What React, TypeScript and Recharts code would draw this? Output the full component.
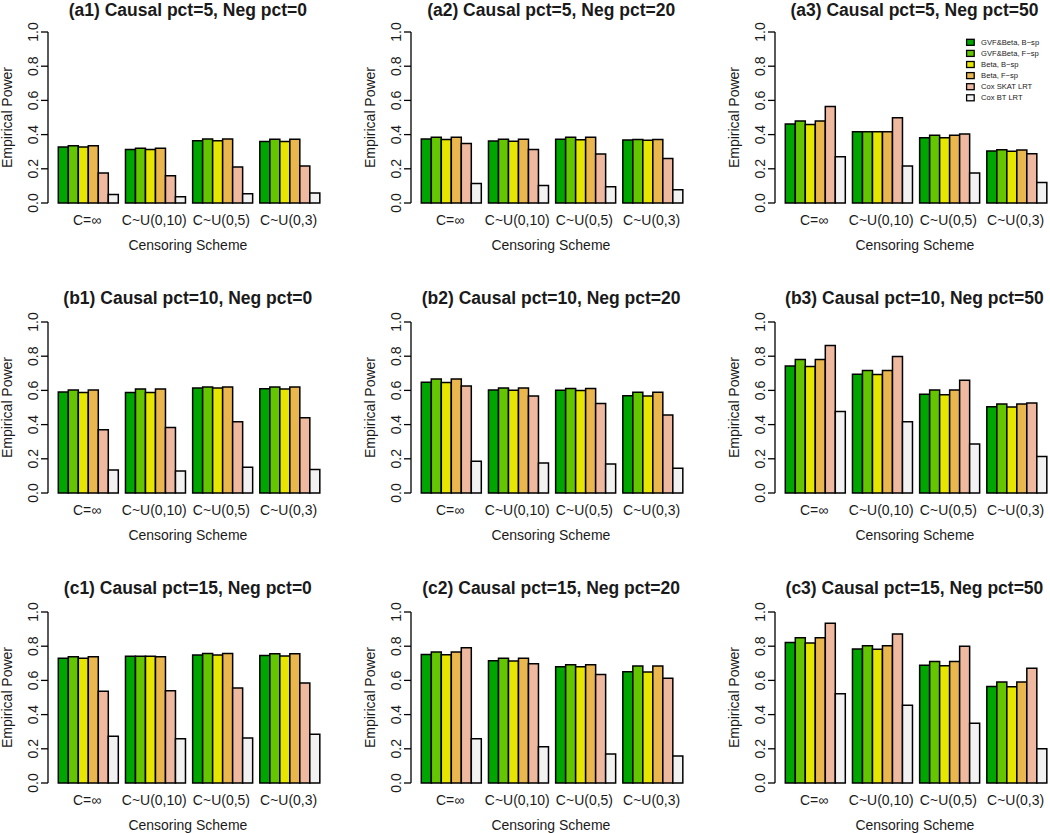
import React from 'react';
import { BarChart, Bar, XAxis, YAxis } from 'recharts';

const FONT = '"Liberation Sans", Arial, Helvetica, sans-serif';

const censoringSchemes = ['C=∞', 'C~U(0,10)', 'C~U(0,5)', 'C~U(0,3)'];
const methodNames = ['GVF&Beta, B−sp', 'GVF&Beta, F−sp', 'Beta, B−sp', 'Beta, F−sp', 'Cox SKAT LRT', 'Cox BT LRT'];
const methodColors = ['#00A600', '#63C600', '#E6E600', '#EAB64E', '#EEB99F', '#F2F2F2'];
const yTicks = [0, 0.2, 0.4, 0.6, 0.8, 1.0];
const panelTitles = [
  '(a1) Causal pct=5, Neg pct=0', '(a2) Causal pct=5, Neg pct=20', '(a3) Causal pct=5, Neg pct=50',
  '(b1) Causal pct=10, Neg pct=0', '(b2) Causal pct=10, Neg pct=20', '(b3) Causal pct=10, Neg pct=50',
  '(c1) Causal pct=15, Neg pct=0', '(c2) Causal pct=15, Neg pct=20', '(c3) Causal pct=15, Neg pct=50',
];

// power[group][method]
const powerA1 = [
  [0.328, 0.335, 0.327, 0.335, 0.175, 0.050],
  [0.313, 0.320, 0.313, 0.320, 0.160, 0.036],
  [0.364, 0.374, 0.364, 0.374, 0.210, 0.054],
  [0.360, 0.373, 0.360, 0.373, 0.216, 0.058],
];
const powerA2 = [
  [0.374, 0.385, 0.372, 0.385, 0.348, 0.114],
  [0.362, 0.373, 0.361, 0.373, 0.313, 0.102],
  [0.373, 0.385, 0.370, 0.385, 0.286, 0.095],
  [0.368, 0.371, 0.367, 0.371, 0.260, 0.077],
];
const powerA3 = [
  [0.462, 0.480, 0.459, 0.480, 0.565, 0.270],
  [0.416, 0.416, 0.416, 0.416, 0.498, 0.217],
  [0.382, 0.396, 0.382, 0.396, 0.403, 0.175],
  [0.304, 0.312, 0.302, 0.310, 0.288, 0.120],
];
const powerB1 = [
  [0.590, 0.602, 0.588, 0.602, 0.370, 0.135],
  [0.587, 0.608, 0.587, 0.608, 0.383, 0.129],
  [0.614, 0.620, 0.614, 0.620, 0.417, 0.151],
  [0.610, 0.620, 0.608, 0.620, 0.440, 0.137],
];
const powerB2 = [
  [0.648, 0.667, 0.646, 0.667, 0.626, 0.186],
  [0.603, 0.614, 0.601, 0.614, 0.567, 0.176],
  [0.601, 0.611, 0.599, 0.611, 0.524, 0.170],
  [0.569, 0.589, 0.567, 0.589, 0.456, 0.145],
];
const powerB3 = [
  [0.742, 0.781, 0.740, 0.781, 0.863, 0.476],
  [0.695, 0.716, 0.693, 0.716, 0.798, 0.417],
  [0.577, 0.603, 0.575, 0.603, 0.659, 0.286],
  [0.505, 0.521, 0.503, 0.521, 0.526, 0.213],
];
const powerC1 = [
  [0.729, 0.739, 0.729, 0.739, 0.536, 0.273],
  [0.741, 0.741, 0.741, 0.739, 0.540, 0.259],
  [0.749, 0.758, 0.749, 0.758, 0.556, 0.263],
  [0.745, 0.756, 0.743, 0.756, 0.585, 0.285],
];
const powerC2 = [
  [0.752, 0.766, 0.750, 0.766, 0.791, 0.259],
  [0.715, 0.729, 0.713, 0.729, 0.698, 0.212],
  [0.680, 0.692, 0.680, 0.692, 0.634, 0.170],
  [0.651, 0.684, 0.649, 0.684, 0.612, 0.158],
];
const powerC3 = [
  [0.821, 0.850, 0.819, 0.850, 0.934, 0.522],
  [0.784, 0.803, 0.782, 0.803, 0.871, 0.454],
  [0.688, 0.710, 0.686, 0.710, 0.799, 0.349],
  [0.565, 0.591, 0.563, 0.591, 0.671, 0.201],
];

const panels = [powerA1, powerA2, powerA3, powerB1, powerB2, powerB3, powerC1, powerC2, powerC3];

// layout
const COL_W = 363.3;
const ROW_H = 290;
const AXIS_W = 48;
const PLOT_W = 279.7;
const PLOT_TOP = 32;
const PLOT_H = 171;
const XAXIS_H = 60;
const TEXT = '#1a1a1a';
const TITLE_Y = [9.8, 298.3, 587.5];

const XTick = (props: any) => {
  const { x, y, payload } = props;
  return (
    <text x={x} y={y + 17} textAnchor="middle" dominantBaseline="central" fontSize={14} fill={TEXT} fontFamily={FONT}>
      {payload.value}
    </text>
  );
};

const YTick = (props: any) => {
  const { x, y, payload } = props;
  const cx = x - 7.7;
  return (
    <text
      x={cx}
      y={y}
      transform={`rotate(-90, ${cx}, ${y})`}
      textAnchor="middle"
      dominantBaseline="central"
      fontSize={14}
      fill={TEXT}
      fontFamily={FONT}
    >
      {Number(payload.value).toFixed(1)}
    </text>
  );
};

const YLabel = () => {
  const cx = 7;
  const cy = PLOT_TOP + PLOT_H / 2;
  return (
    <text x={cx} y={cy} transform={`rotate(-90, ${cx}, ${cy})`} textAnchor="middle" dominantBaseline="central" fontSize={14} fill={TEXT} fontFamily={FONT}>
      Empirical Power
    </text>
  );
};

const XLabel = () => {
  const cx = AXIS_W + PLOT_W / 2;
  const cy = PLOT_TOP + PLOT_H + 42.3;
  return (
    <text x={cx} y={cy} textAnchor="middle" dominantBaseline="central" fontSize={14} fill={TEXT} fontFamily={FONT}>
      Censoring Scheme
    </text>
  );
};

function Panel({ values }: { values: number[][] }) {
  const data = censoringSchemes.map((scheme, g) => {
    const row: any = { scheme };
    methodNames.forEach((_, m) => {
      row['m' + m] = values[g][m];
    });
    return row;
  });
  return (
    <BarChart
      width={COL_W}
      height={ROW_H}
      data={data}
      margin={{ top: PLOT_TOP, right: COL_W - AXIS_W - PLOT_W, bottom: ROW_H - PLOT_TOP - PLOT_H - XAXIS_H, left: 0 }}
      barCategoryGap={4.8}
      barGap={0}
    >
      <XAxis
        dataKey="scheme"
        type="category"
        height={XAXIS_H}
        padding={{ left: 5.5, right: 5.5 }}
        axisLine={false}
        tickLine={false}
        tickSize={0}
        tickMargin={0}
        interval={0}
        tick={<XTick />}
        label={<XLabel />}
      />
      <YAxis
        type="number"
        domain={[0, 1]}
        ticks={yTicks}
        width={AXIS_W}
        axisLine={{ stroke: '#000', strokeWidth: 1.3 }}
        tickLine={{ stroke: '#000', strokeWidth: 1.3 }}
        tickSize={7}
        tickMargin={0}
        interval={0}
        tick={<YTick />}
        label={<YLabel />}
      />
      {methodNames.map((name, m) => (
        <Bar
          key={name}
          name={name}
          dataKey={'m' + m}
          fill={methodColors[m]}
          stroke="#000"
          strokeWidth={1.5}
          isAnimationActive={false}
        />
      ))}
    </BarChart>
  );
}

export default function App() {
  const legendX = 2 * COL_W + 240;
  const legendY0 = 42.3;
  const legendStep = 11.1;
  return (
    <div
      style={{
        position: 'absolute',
        left: 0,
        top: 0,
        width: 1050,
        height: 833,
        overflow: 'hidden',
        background: '#fff',
        fontFamily: FONT,
      }}
    >
      {panels.map((values, i) => {
        const col = i % 3;
        const row = Math.floor(i / 3);
        return (
          <div key={i} style={{ position: 'absolute', left: col * COL_W, top: row * ROW_H, width: COL_W, height: ROW_H }}>
            <Panel values={values} />
          </div>
        );
      })}
      <svg width={1050} height={833} style={{ position: 'absolute', left: 0, top: 0, pointerEvents: 'none' }}>
        {panelTitles.map((t, i) => {
          const col = i % 3;
          const row = Math.floor(i / 3);
          return (
            <text
              key={t}
              x={col * COL_W + AXIS_W + PLOT_W / 2}
              y={TITLE_Y[row]}
              textAnchor="middle"
              dominantBaseline="central"
              fontSize={17.5}
              fontWeight="bold"
              fill={TEXT}
              fontFamily={FONT}
            >
              {t}
            </text>
          );
        })}
        {methodNames.map((name, m) => (
          <g key={name}>
            <rect
              x={legendX}
              y={legendY0 + m * legendStep - 3}
              width={7.6}
              height={6}
              fill={methodColors[m]}
              stroke="#000"
              strokeWidth={1.3}
            />
            <text x={legendX + 14.5} y={legendY0 + m * legendStep} dominantBaseline="central" fontSize={7.6} fill={TEXT} fontFamily={FONT}>
              {name}
            </text>
          </g>
        ))}
      </svg>
    </div>
  );
}
